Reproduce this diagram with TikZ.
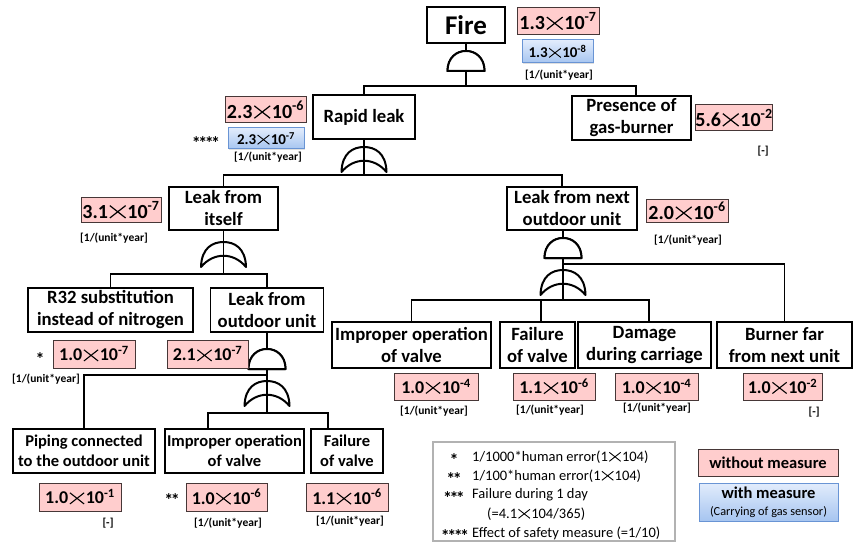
\documentclass[tikz,border=0pt]{standalone}
\usepackage{fontspec}
\setmainfont{Carlito}
\usetikzlibrary{shadows}
\definecolor{pinkf}{RGB}{255,205,205}
\definecolor{pinkd}{RGB}{70,55,55}
\definecolor{bluet}{RGB}{226,236,252}
\definecolor{blueb}{RGB}{166,197,240}
\definecolor{bluebd}{RGB}{105,148,212}
\newcommand{\crs}{\hspace{0.06em}\tikz[baseline=0pt]\draw[line width=0.06em] (0.03em,0.0em) -- (0.82em,0.62em) (0.03em,0.62em) -- (0.82em,0.0em);\hspace{0.06em}}
\newcommand{\lowstars}[1]{\smash{\raisebox{-0.33em}{#1}}}
\begin{document}
\begin{tikzpicture}[x=1pt,y=-1pt,
  evbox/.style={draw, line width=1.2pt, fill=white, align=center, inner sep=0pt,
    font=\bfseries\fontsize{18.7}{22}\selectfont},
  evsmall/.style={evbox, font=\bfseries\fontsize{16.5}{19.5}\selectfont},
  redv/.style={draw=pinkd, line width=1pt, fill=pinkf, inner sep=0pt,
    font=\bfseries\fontsize{20}{22}\selectfont},
  redvs/.style={redv, font=\bfseries\fontsize{18}{20}\selectfont},
  bluev/.style={draw=bluebd, line width=1pt, top color=bluet, bottom color=blueb, inner sep=0pt,
    drop shadow={opacity=0.25, shadow xshift=1pt, shadow yshift=-1.2pt},
    font=\bfseries\fontsize{15}{17}\selectfont},
  unitl/.style={inner sep=0pt, font=\bfseries\fontsize{11.5}{13}\selectfont},
  starl/.style={inner sep=0pt, font=\bfseries\fontsize{18}{20}\selectfont},
  legt/.style={inner sep=0pt, font=\fontsize{14.5}{17}\selectfont},
  conn/.style={line width=1.8pt},
  gatel/.style={line width=2pt, line join=round},
  andgate/.pic={
    \draw[gatel, fill=white] (-18.5,20) .. controls (-18.5,-6.7) and (18.5,-6.7) .. (18.5,20) -- cycle;
    \coordinate (-top) at (0,0);
    \coordinate (-bot) at (0,20);
  },
  orgate/.pic={
    \draw[gatel] (-22.5,25) .. controls (-22,6) and (-11,0) .. (0,0)
      .. controls (11,0) and (22,6) .. (22.5,25)
      .. controls (10,10) and (-10,10) .. (-22.5,25) -- cycle;
    \coordinate (-top) at (0,0);
    \coordinate (-bot) at (0,13.75);
  }
]
\path[use as bounding box, fill=white] (0,0) rectangle (858,545);

% ---------- event boxes ----------
\node[evbox, minimum width=78, minimum height=36, font=\bfseries\fontsize{27}{30}\selectfont] (fire) at (466,25) {Fire};
\node[evbox, minimum width=102, minimum height=44] (rapid) at (364,117) {Rapid leak};
\node[evbox, minimum width=119, minimum height=44] (presence) at (631.5,118) {Presence of\\gas-burner};
\node[evbox, minimum width=109, minimum height=43] (itself) at (223.5,208.5) {Leak from\\itself};
\node[evbox, minimum width=130, minimum height=43] (next) at (572,208.5) {Leak from next\\outdoor unit};
\node[evbox, minimum width=165, minimum height=44] (r32) at (110.5,310) {R32 substitution\\instead of nitrogen};
\node[evbox, minimum width=113, minimum height=44] (outdoor) at (267,310) {Leak from\\outdoor unit};
\node[evbox, minimum width=159, minimum height=46] (imp1) at (411.5,345) {Improper operation\\of valve};
\node[evbox, minimum width=75, minimum height=46] (fail1) at (537.5,345) {Failure\\of valve};
\node[evbox, minimum width=133, minimum height=46] (damage) at (644.5,345) {Damage\\during carriage};
\node[evbox, minimum width=135, minimum height=46] (burner) at (784.5,345) {Burner far\\from next unit};
\node[evsmall, minimum width=142, minimum height=44] (piping) at (84,451) {Piping connected\\to the outdoor unit};
\node[evsmall, minimum width=139, minimum height=44] (imp2) at (234.5,451) {Improper operation\\of valve};
\node[evsmall, minimum width=72, minimum height=44] (fail2) at (347,451) {Failure\\of valve};

% ---------- gates ----------
\pic (g0) at (466,51) {andgate};
\pic (g1) at (364,147) {orgate};
\pic (g2) at (223.5,242) {orgate};
\pic (g3) at (563,238) {andgate};
\pic (g4) at (563,270) {orgate};
\pic (g5) at (267,349) {andgate};
\pic (g6) at (267,381) {orgate};

% ---------- junctions ----------
\coordinate (j0) at (466,86);
\coordinate (j1) at (364,175);
\coordinate (j2) at (223.5,274);
\coordinate (j3) at (563,264);
\coordinate (j4) at (563,300);
\coordinate (j5) at (267,375);
\coordinate (j6) at (267,413);

% ---------- connectors ----------
\draw[conn] (fire) -- (g0-top);
\draw[conn] (g0-bot) -- (j0);
\draw[conn] (j0) -| (rapid.north);
\draw[conn] (j0) -| ([xshift=4.5pt]presence.north);

\draw[conn] (rapid) -- (g1-top);
\draw[conn] (g1-top) -- (j1);
\draw[conn] (j1) -| (itself.north);
\draw[conn] (j1) -| ([xshift=-10pt]next.north);

\draw[conn] (itself) -- (g2-top);
\draw[conn] (g2-top) -- (j2);
\draw[conn] (j2) -| (r32.north);
\draw[conn] (j2) -| (outdoor.north);

\draw[conn] ([xshift=-9pt]next.south) -- (g3-top);
\draw[conn] (g3-bot) -- (g4-top);
\draw[conn] (j3) -| (burner.north);
\draw[conn] (g4-top) -- (j4);
\draw[conn] (j4) -| (imp1.north);
\draw[conn] (j4) -| ([xshift=3.5pt]fail1.north);
\draw[conn] (j4) -| ([xshift=4.5pt]damage.north);

\draw[conn] (outdoor) -- (g5-top);
\draw[conn] (g5-bot) -- (g6-top);
\draw[conn] (j5) -| (piping.north);
\draw[conn] (g6-top) -- (j6);
\draw[conn] (j6) -| ([xshift=-26.5pt]imp2.north);
\draw[conn] (j6) -| ([xshift=-19pt]fail2.north);

% redraw gates on top of lines
\pic at (466,51) {andgate};
\pic at (563,238) {andgate};
\pic at (267,349) {andgate};

% ---------- values ----------
\node[redv, minimum width=82, minimum height=27] (vfire) at (558,21.5) {1.3\crs10\textsuperscript{-7}};
\node[bluev, minimum width=71, minimum height=23] (vfireb) at (557.5,51.5) {1.3\crs10\textsuperscript{-8}};
\node[unitl] (ufire) at (559,75) {[1/(unit*year]};

\node[redv, minimum width=81, minimum height=26] (vrapid) at (265.5,110) {2.3\crs10\textsuperscript{-6}};
\node[bluev, minimum width=76, minimum height=21] (vrapidb) at (266,138.5) {2.3\crs10\textsuperscript{-7}};
\node[unitl] (urapid) at (268,157) {[1/(unit*year]};
\node[starl] (srapid) at (206,144) {\lowstars{*\kern-0.14em*\kern-0.14em*\kern-0.14em*}};

\node[redv, minimum width=76, minimum height=26] (vpres) at (734,118) {5.6\crs10\textsuperscript{-2}};
\node[unitl] (upres) at (763,151) {[-]};

\node[redv, minimum width=80, minimum height=24] (vitself) at (121,210) {3.1\crs10\textsuperscript{-7}};
\node[unitl] (uitself) at (114,238) {[1/(unit*year]};

\node[redv, minimum width=82, minimum height=23] (vnext) at (687,211) {2.0\crs10\textsuperscript{-6}};
\node[unitl] (unext) at (688,240) {[1/(unit*year]};

\node[redvs, minimum width=82, minimum height=28] (vr32) at (94,354) {1.0\crs10\textsuperscript{-7}};
\node[starl] (sr32) at (40,360) {\lowstars{*}};
\node[unitl] (ur32) at (46,379) {[1/(unit*year]};

\node[redvs, minimum width=81, minimum height=28] (voutdoor) at (207.5,354) {2.1\crs10\textsuperscript{-7}};

\node[redvs, minimum width=84, minimum height=27] (vimp1) at (436,386.5) {1.0\crs10\textsuperscript{-4}};
\node[unitl] (uimp1) at (434,411) {[1/(unit*year]};
\node[redvs, minimum width=82, minimum height=27] (vfail1) at (554,386.5) {1.1\crs10\textsuperscript{-6}};
\node[unitl] (ufail1) at (550,410) {[1/(unit*year]};
\node[redvs, minimum width=83, minimum height=27] (vdamage) at (656.5,386.5) {1.0\crs10\textsuperscript{-4}};
\node[unitl] (udamage) at (657,408) {[1/(unit*year]};
\node[redvs, minimum width=79, minimum height=27] (vburner) at (782.5,386.5) {1.0\crs10\textsuperscript{-2}};
\node[unitl] (uburner) at (814,412) {[-]};

\node[redvs, minimum width=82, minimum height=28] (vpiping) at (80,497) {1.0\crs10\textsuperscript{-1}};
\node[unitl] (upiping) at (108,523) {[-]};
\node[redvs, minimum width=81, minimum height=28] (vimp2) at (226.5,497) {1.0\crs10\textsuperscript{-6}};
\node[starl] (simp2) at (172,501) {\lowstars{*\kern-0.14em*}};
\node[unitl] (uimp2) at (228,523) {[1/(unit*year]};
\node[redvs, minimum width=82, minimum height=28] (vfail2) at (347,497) {1.1\crs10\textsuperscript{-6}};
\node[unitl] (ufail2) at (350,521) {[1/(unit*year]};

% ---------- legend ----------
\node[draw=black!30, line width=1.2pt, minimum width=242, minimum height=99, inner sep=0pt] (legend) at (554,491.5) {};
\node[starl] (ls1) at (454,461) {\lowstars{*}};
\node[legt, anchor=west] (lt1) at (472,457) {1/1000*human error(1\crs104)};
\node[starl] (ls2) at (454,480) {\lowstars{*\kern-0.14em*}};
\node[legt, anchor=west] (lt2) at (472,476) {1/100*human error(1\crs104)};
\node[starl] (ls3) at (454,499) {\lowstars{*\kern-0.14em*\kern-0.14em*}};
\node[legt, anchor=west] (lt3) at (472,495) {Failure during 1 day};
\node[legt, anchor=west] (lt4) at (487,514) {(=4.1\crs104/365)};
\node[starl] (ls5) at (455,537) {\lowstars{*\kern-0.14em*\kern-0.14em*\kern-0.14em*}};
\node[legt, anchor=west] (lt5) at (472,533) {Effect of safety measure (=1/10)};

\node[redv, minimum width=140, minimum height=27, font=\bfseries\fontsize{16.5}{19}\selectfont] (wo) at (768,462.5) {without measure};
\node[bluev, minimum width=139, minimum height=38, align=center, font=\bfseries\fontsize{16.5}{17}\selectfont] (wm) at (768.5,502) {with measure\\{\normalfont\fontsize{12.3}{14}\selectfont (Carrying of gas sensor)}};
\end{tikzpicture}
\end{document}
